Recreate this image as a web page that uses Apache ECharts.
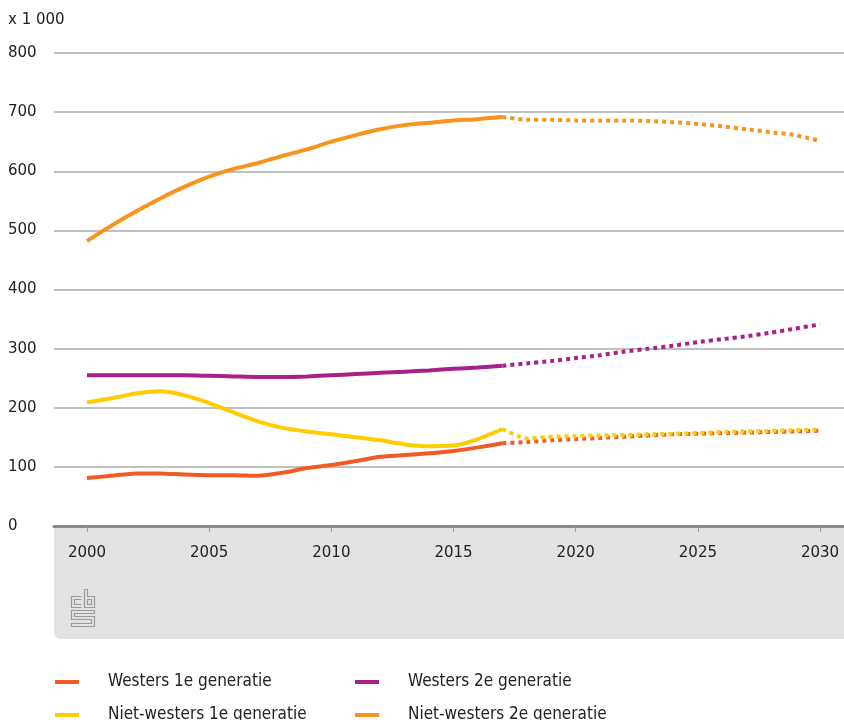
<!DOCTYPE html>
<html>
<head>
<meta charset="utf-8">
<script src="https://cdn.jsdelivr.net/npm/echarts@6/dist/echarts.min.js"></script>
<style>html,body{margin:0;padding:0;background:#fff;}#c{width:844px;height:720px;}</style>
</head>
<body>
<div id="c"></div>
<script>
const histYears = [2000,2001,2002,2003,2004,2005,2006,2007,2008,2009,2010,2011,2012,2013,2014,2015,2016,2017];
const projYears = [2017,2018,2019,2020,2021,2022,2023,2024,2025,2026,2027,2028,2029,2030];
const xTicks = [2000,2005,2010,2015,2020,2025,2030];
const yTicks = [0,100,200,300,400,500,600,700,800];

const names = ['Westers 1e generatie','Westers 2e generatie','Niet-westers 1e generatie','Niet-westers 2e generatie'];
const colors = ['#F15A24','#A8208A','#FFCC00','#F7941D'];

const westers1Hist = [81,85,89,89,87,86,86,85,90,98,103,110,117,120,123,127,133,140];
const westers1Proj = [140,142,145,147,149,151,153,155,156,157,158,159,160,161];
const westers2Hist = [255,255,255,255,255,254,253,252,252,253,255,257,259,261,263,266,268,271];
const westers2Proj = [271,275,279,284,289,295,300,305,311,316,321,327,334,341];
const nietW1Hist = [209,216,224,228,221,208,192,177,166,160,155,150,145,138,135,136,147,164];
const nietW1Proj = [164,148,151,152,153,154,155,156,157,159,160,161,162,163];
const nietW2Hist = [482,508,532,554,574,591,604,614,626,637,650,661,671,678,682,686,688,692];
const nietW2Proj = [692,687,687,686,686,686,685,683,680,676,671,666,661,651];

const hist = [westers1Hist, westers2Hist, nietW1Hist, nietW2Hist];
const proj = [westers1Proj, westers2Proj, nietW1Proj, nietW2Proj];

const zip = (xs, ys) => xs.map((x, i) => [x, ys[i]]);

const series = [];
names.forEach((n, i) => {
  series.push({
    name: n, type: 'line', data: zip(histYears, hist[i]), showSymbol: false, symbol: 'none',
    smooth: 0.2, itemStyle: {color: colors[i]},
    lineStyle: {color: colors[i], width: 4}, z: 3
  });
});
names.forEach((n, i) => {
  series.push({
    name: n, type: 'line', data: zip(projYears, proj[i]), showSymbol: false, symbol: 'none',
    smooth: 0.2, itemStyle: {color: colors[i]},
    lineStyle: {color: colors[i], width: 4, type: [4, 4], cap: 'butt'}, z: 3
  });
});

const legendFont = {color: '#222', fontSize: 17, fontFamily: "'Liberation Sans Narrow','DejaVu Sans Condensed',sans-serif", padding: [0,0,0,24], lineHeight: 20};
const legendPos = [[55, 672], [355, 672], [55, 705], [355, 705]];
const legends = names.map((n, i) => ({
  data: [n], orient: 'horizontal', left: legendPos[i][0], top: legendPos[i][1], padding: 0,
  itemWidth: 24, itemHeight: 4, icon: 'rect', textStyle: legendFont, selectedMode: false
}));

const chart = echarts.init(document.getElementById('c'), null, {renderer: 'canvas'});
chart.setOption({
  animation: false,
  backgroundColor: '#fff',
  grid: {left: 54, right: 0, top: 53, bottom: 194, containLabel: false},
  graphic: [
    {type: 'rect', left: 54, top: 527, shape: {width: 790, height: 112, r: [0,0,0,7]}, style: {fill: '#E1E2E4'}, z: 0, silent: true},
    {type: 'text', left: 8, top: 13, style: {text: 'x 1 000', fill: '#222', font: '15px "DejaVu Sans", sans-serif'}},
    {type: 'group', left: 69, top: 587, z: 5, children: [
      {type: 'polyline', shape: {points: [[11,7],[1,7],[1,18],[11,18]]}, style: {stroke: '#9a9a9a', lineWidth: 1.2, fill: null}},
      {type: 'polyline', shape: {points: [[11,10],[4,10],[4,15],[11,15]]}, style: {stroke: '#9a9a9a', lineWidth: 1.2, fill: null}},
      {type: 'polyline', shape: {points: [[14,0],[17,0],[17,7],[24,7],[24,18],[14,18],[14,0]]}, style: {stroke: '#9a9a9a', lineWidth: 1.2, fill: null}},
      {type: 'rect', shape: {x: 17, y: 10, width: 4, height: 5}, style: {stroke: '#9a9a9a', lineWidth: 1.2, fill: null}},
      {type: 'polyline', shape: {points: [[24,21],[1,21],[1,30],[21,30],[21,34],[1,34],[1,37],[24,37],[24,27],[4,27],[4,24],[24,24],[24,21]]}, style: {stroke: '#9a9a9a', lineWidth: 1.2, fill: null}}
    ]}
  ],
  legend: legends,
  xAxis: {
    type: 'value', min: 1998.65, max: 2030.98,
    axisLine: {show: true, lineStyle: {color: '#8a8a8a', width: 3}},
    axisTick: {show: true, customValues: xTicks, length: 6, lineStyle: {color: '#9a9a9a', width: 1}},
    axisLabel: {customValues: xTicks, color: '#222', fontSize: 15, fontFamily: 'DejaVu Sans', margin: 20, formatter: v => String(Math.round(v))},
    splitLine: {show: false}
  },
  yAxis: {
    type: 'value', min: 0, max: 800, interval: 100,
    axisLine: {show: false}, axisTick: {show: false},
    axisLabel: {color: '#222', fontSize: 15, fontFamily: 'DejaVu Sans', align: 'left', margin: 46},
    splitLine: {lineStyle: {color: '#ABABAB', width: 1.5}}
  },
  series: series
});
</script>
</body>
</html>
